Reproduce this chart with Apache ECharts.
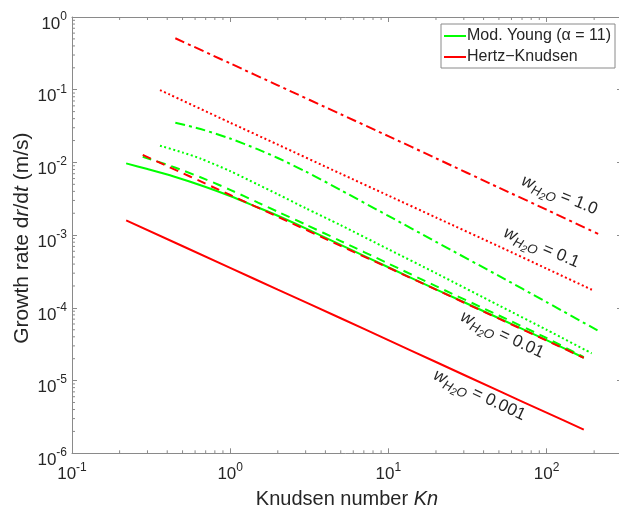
<!DOCTYPE html>
<html>
<head>
<meta charset="utf-8">
<script src="https://cdn.jsdelivr.net/npm/echarts@6/dist/echarts.min.js"></script>
<style>
  html, body { margin: 0; padding: 0; background: #fff; }
  #chart { width: 619px; height: 510px; }
</style>
</head>
<body>
<div id="chart"></div>
<script>
// Hertz-Knudsen curves (red), Knudsen number vs growth rate (m/s)
var hk1Kn = [0.45, 1, 2, 5, 10, 20, 50, 100, 212];
var hk1Rate = [0.51, 0.23, 0.115, 0.046, 0.023, 0.0114, 4.5e-3, 2.24e-3, 1.04e-3];
var hk01Kn = [0.36, 1, 2, 5, 10, 20, 50, 100, 195];
var hk01Rate = [0.099, 0.0352, 0.0176, 7.0e-3, 3.5e-3, 1.75e-3, 7.0e-4, 3.47e-4, 1.76e-4];
var hk001Kn = [0.28, 1, 2, 5, 10, 20, 50, 100, 172];
var hk001Rate = [0.0127, 3.57e-3, 1.79e-3, 7.1e-4, 3.57e-4, 1.78e-4, 7.1e-5, 3.56e-5, 2.05e-5];
var hk0001Kn = [0.22, 1, 2, 5, 10, 20, 50, 100, 172];
var hk0001Rate = [1.6e-3, 3.55e-4, 1.78e-4, 7.2e-5, 3.6e-5, 1.8e-5, 7.2e-6, 3.62e-6, 2.12e-6];

// Modified Young curves (green)
var my1Kn = [0.45, 0.65, 1, 1.5, 2, 3, 5, 10, 20, 50, 100, 210];
var my1Rate = [0.0352, 0.0288, 0.0213, 0.0151, 0.0115, 7.5e-3, 4.17e-3, 1.84e-3, 8.1e-4, 2.75e-4, 1.2e-4, 4.9e-5];
var my01Kn = [0.36, 0.5, 0.65, 1, 1.5, 2, 3, 5, 10, 20, 50, 100, 193];
var my01Rate = [0.017, 0.0137, 0.0113, 7.6e-3, 4.95e-3, 3.65e-3, 2.35e-3, 1.37e-3, 6.4e-4, 3.0e-4, 1.08e-4, 5.0e-5, 2.37e-5];
var my001Kn = [0.28, 0.4, 0.5, 0.7, 1, 1.5, 2, 3, 5, 10, 20, 50, 100, 172];
var my001Rate = [0.012, 9.3e-3, 7.8e-3, 5.85e-3, 4.2e-3, 2.8e-3, 2.1e-3, 1.4e-3, 8.3e-4, 4.07e-4, 1.99e-4, 7.85e-5, 3.85e-5, 2.1e-5];
var my0001Kn = [0.22, 0.3, 0.44, 0.7, 1, 1.5, 2, 3, 5, 10, 20, 50, 100, 172];
var my0001Rate = [9.7e-3, 8.1e-3, 6.4e-3, 4.6e-3, 3.45e-3, 2.4e-3, 1.85e-3, 1.24e-3, 7.35e-4, 3.62e-4, 1.8e-4, 7.2e-5, 3.6e-5, 2.06e-5];

// curve annotations (w_H2O values) and where they sit
var wLabels = ['1.0', '0.1', '0.01', '0.001'];
var wLabelKn = [121, 93, 52.5, 37.7];
var wLabelRate = [3.56e-3, 6.75e-4, 4.27e-5, 6.3e-6];
var wLabelAngle = [22, 23, 25, 25];

var legendNames = ['Mod. Young (\u03b1 = 11)', 'Hertz\u2212Knudsen'];

var X_MIN = 0.1, X_MAX = 300, Y_MIN = 1e-6, Y_MAX = 1;
var FONT = '"Liberation Sans", Arial, Helvetica, sans-serif';
var TXT = '#262626';
var AX = '#8a8a8a';
var GREEN = '#00ff00', RED = '#ff0000';

var DASH = [9, 6], DOT = [2, 2.6], DASHDOT = [10, 4, 3, 4];

function pairs(xs, ys) {
    return xs.map(function (x, i) { return [x, ys[i]]; });
}

function curve(name, color, type, xs, ys) {
    return {
        name: name,
        type: 'line',
        symbol: 'none',
        silent: true,
        smooth: 0.25,
        lineStyle: { color: color, width: 2, type: type },
        itemStyle: { color: color },
        data: pairs(xs, ys)
    };
}

// minor tick positions 2..9 x 10^k
var xMinor = [], yMinor = [];
for (var k = -1; k <= 2; k++) {
    for (var m = 2; m <= 9; m++) {
        var v = m * Math.pow(10, k);
        if (v < X_MAX) xMinor.push(v);
    }
}
for (var k2 = -6; k2 <= -1; k2++) {
    for (var m2 = 2; m2 <= 9; m2++) yMinor.push(m2 * Math.pow(10, k2));
}

function powLabel(v) {
    var lg = Math.log10(v);
    var e = Math.round(lg);
    if (Math.abs(lg - e) > 1e-6) return '';
    return '{b|10}{s|' + e + '}';
}
// padding below the exponent lifts it (middle-aligned tokens)
var tickRich = {
    b: { fontSize: 17, fontFamily: FONT, color: TXT },
    s: { fontSize: 12, fontFamily: FONT, color: TXT, padding: [0, 0, 15, 0] }
};

function frameAxis(extra) {
    var base = {
        type: 'log',
        logBase: 10,
        axisLine: { show: true, onZero: false, lineStyle: { color: AX, width: 1 } },
        axisTick: { show: true, inside: true, length: 5, lineStyle: { color: AX, width: 1 } },
        splitLine: { show: false },
        minorTick: { show: false }
    };
    for (var key in extra) base[key] = extra[key];
    return base;
}

function nameStyle(size, pad) {
    return {
        fontSize: size, fontFamily: FONT, color: TXT, padding: pad,
        rich: { i: { fontSize: size, fontFamily: FONT, color: TXT, fontStyle: 'italic' } }
    };
}

var dom = document.getElementById('chart');
var myChart = echarts.init(dom, null, { renderer: 'canvas' });

var option = {
    animation: false,
    backgroundColor: '#fff',
    textStyle: { fontFamily: FONT },
    grid: { left: 72, top: 17, right: -3, bottom: 56.7, containLabel: false, outerBoundsMode: 'none' },
    legend: {
        data: legendNames,
        orient: 'vertical',
        left: 441,
        top: 24,
        padding: [4, 4, 3, 2],
        itemGap: 5,
        itemWidth: 22,
        itemHeight: 16,
        selectedMode: false,
        backgroundColor: '#fff',
        borderColor: AX,
        borderWidth: 1,
        itemStyle: { opacity: 0 },
        lineStyle: { type: 'solid', width: 2 },
        textStyle: { fontSize: 16, color: TXT, fontFamily: FONT, padding: [0, 0, 0, -4] }
    },
    xAxis: [
        frameAxis({
            min: X_MIN, max: X_MAX, position: 'bottom',
            axisLabel: { margin: 8, formatter: powLabel, rich: tickRich, showMaxLabel: false },
            name: 'Knudsen number {i|Kn}',
            nameLocation: 'middle',
            nameGap: 36,
            nameMoveOverlap: false,
            nameTextStyle: nameStyle(20, 0)
        }),
        frameAxis({ min: X_MIN, max: X_MAX, position: 'top', axisLabel: { show: false } })
    ],
    yAxis: [
        frameAxis({
            min: Y_MIN, max: Y_MAX, position: 'left',
            axisLabel: { margin: 5, formatter: powLabel, rich: tickRich, padding: [14, 0, 0, 0] },
            name: 'Growth rate d{i|r}/d{i|t} (m/s)',
            nameLocation: 'middle',
            nameGap: 39,
            nameMoveOverlap: false,
            nameTextStyle: nameStyle(21, [0, 6, 0, 0])
        }),
        frameAxis({ min: Y_MIN, max: Y_MAX, position: 'right', axisLabel: { show: false } })
    ],
    series: [
        curve(legendNames[0], GREEN, 'solid', my0001Kn, my0001Rate),
        curve(legendNames[0], GREEN, DASH, my001Kn, my001Rate),
        curve(legendNames[0], GREEN, DOT, my01Kn, my01Rate),
        curve(legendNames[0], GREEN, DASHDOT, my1Kn, my1Rate),
        curve(legendNames[1], RED, 'solid', hk0001Kn, hk0001Rate),
        curve(legendNames[1], RED, DASH, hk001Kn, hk001Rate),
        curve(legendNames[1], RED, DOT, hk01Kn, hk01Rate),
        curve(legendNames[1], RED, DASHDOT, hk1Kn, hk1Rate),
        {
            type: 'custom',
            silent: true,
            data: xMinor.map(function (v) { return [v, Y_MIN]; }),
            renderItem: function (params, api) {
                var b = api.coord([api.value(0), Y_MIN]);
                var t = api.coord([api.value(0), Y_MAX]);
                return {
                    type: 'group',
                    children: [
                        { type: 'line', shape: { x1: b[0], y1: b[1], x2: b[0], y2: b[1] - 3 }, style: { stroke: AX, lineWidth: 1 } },
                        { type: 'line', shape: { x1: t[0], y1: t[1], x2: t[0], y2: t[1] + 3 }, style: { stroke: AX, lineWidth: 1 } }
                    ]
                };
            }
        },
        {
            type: 'custom',
            silent: true,
            data: yMinor.map(function (v) { return [X_MIN, v]; }),
            renderItem: function (params, api) {
                var l = api.coord([X_MIN, api.value(1)]);
                var r = api.coord([X_MAX, api.value(1)]);
                return {
                    type: 'group',
                    children: [
                        { type: 'line', shape: { x1: l[0], y1: l[1], x2: l[0] + 3, y2: l[1] }, style: { stroke: AX, lineWidth: 1 } },
                        { type: 'line', shape: { x1: r[0], y1: r[1], x2: r[0] - 3, y2: r[1] }, style: { stroke: AX, lineWidth: 1 } }
                    ]
                };
            }
        }
    ]
};

if (option && typeof option === 'object') {
    myChart.setOption(option, true);
}

// w_H2O annotations placed from data coordinates; top padding drops the subscripts
var annRich = {
    w: { fontSize: 17, fontFamily: FONT, fontStyle: 'italic', fill: TXT },
    h: { fontSize: 13, fontFamily: FONT, fontStyle: 'italic', fill: TXT, padding: [11, 0, 0, 0] },
    t: { fontSize: 10, fontFamily: FONT, fontStyle: 'italic', fill: TXT, padding: [17, 0, 0, 0] },
    e: { fontSize: 17, fontFamily: FONT, fill: TXT }
};
var graphics = wLabels.map(function (lab, i) {
    var p = myChart.convertToPixel({ gridIndex: 0 }, [wLabelKn[i], wLabelRate[i]]);
    return {
        type: 'text',
        x: p[0],
        y: p[1],
        rotation: -wLabelAngle[i] * Math.PI / 180,
        silent: true,
        z: 10,
        style: {
            text: '{w|w}{h|H}{t|2}{h|O}{e| = ' + lab + '}',
            x: 0,
            y: 0,
            align: 'center',
            verticalAlign: 'middle',
            rich: annRich
        }
    };
});
myChart.setOption({ graphic: graphics });
</script>
</body>
</html>
